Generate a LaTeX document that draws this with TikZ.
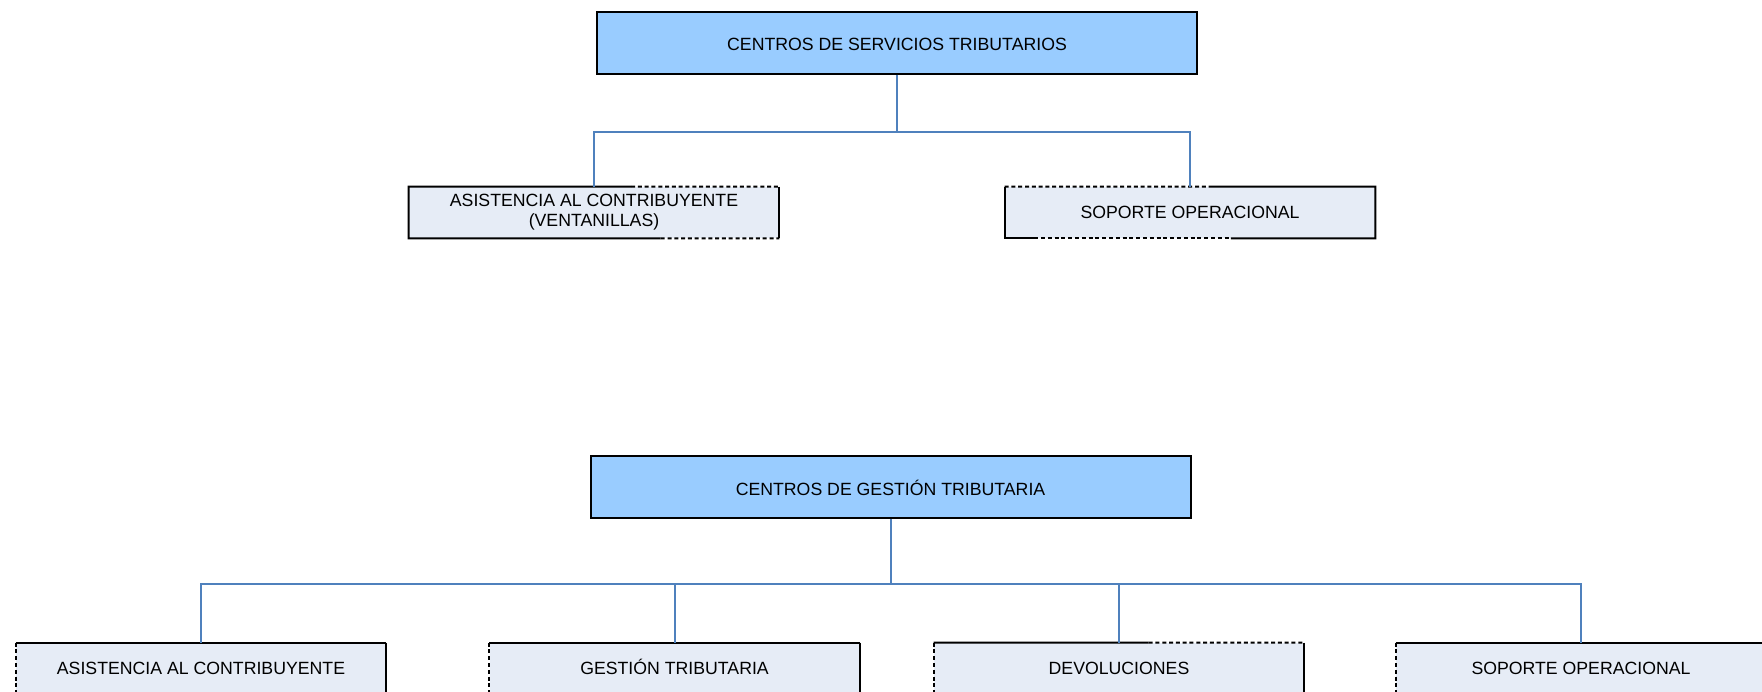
\documentclass[tikz,border=0pt]{standalone}
\usepackage{fontspec}
\setmainfont{Liberation Sans}
\usetikzlibrary{calc}

\definecolor{headblue}{RGB}{153,204,255}
\definecolor{unitgray}{RGB}{230,236,246}
\definecolor{linkblue}{RGB}{79,129,189}

\tikzset{
  head/.style={fill=headblue, draw=black, line width=1pt, minimum width=300pt, minimum height=31pt, inner sep=0pt, text height=8.3pt, text depth=0pt, font=\fontsize{8.85}{10}\selectfont},
  unit/.style={fill=unitgray, minimum width=185pt, minimum height=25.5pt, inner sep=0pt, align=center, font=\fontsize{8.85}{10}\selectfont},
  unitone/.style={unit, text height=6.4pt, text depth=0pt},
  rim/.style={black, line width=1pt},
  rimdash/.style={black, line width=1pt, dash pattern=on 2pt off 1.4pt},
  conn/.style={linkblue, line width=1pt}
}

\begin{document}
\begin{tikzpicture}[x=0.5pt,y=-0.5pt]
\useasboundingbox (0,0) rectangle (1762,691);
\clip (0,0) rectangle (1762,691);

%Centros de servicios
\node[head] (css) at (897,42.5) {CENTROS DE SERVICIOS TRIBUTARIOS};
\node[unit] (asis) at (594,212.5) {ASISTENCIA AL CONTRIBUYENTE\\(VENTANILLAS)};
\node[unitone] (sopa) at (1190,212.5) {SOPORTE OPERACIONAL};
\coordinate (bus1) at (897,131.5);

% borders asis
\draw[rim] ($(asis.north west)!0.6!(asis.north east)$) -| (asis.south west) -- ($(asis.south west)!0.68!(asis.south east)$);
\draw[rim] (asis.north east) -- (asis.south east);
\draw[rimdash] ($(asis.north west)!0.6!(asis.north east)$) -- (asis.north east);
\draw[rimdash] ($(asis.south west)!0.68!(asis.south east)$) -- (asis.south east);
% borders sopa
\draw[rim] ($(sopa.north west)!0.55!(sopa.north east)$) -| (sopa.south east) -- ($(sopa.south west)!0.61!(sopa.south east)$);
\draw[rim] ($(sopa.south west)!0.08!(sopa.south east)$) -| (sopa.north west);
\draw[rimdash] (sopa.north west) -- ($(sopa.north west)!0.55!(sopa.north east)$);
\draw[rimdash] ($(sopa.south west)!0.08!(sopa.south east)$) -- ($(sopa.south west)!0.61!(sopa.south east)$);

\draw[conn] (css.south) -- (bus1);
\draw[conn] (asis.north) |- (bus1) -| (sopa.north);

%Centros de gestion
\node[head] (cgt) at (890.5,487) {CENTROS DE GESTIÓN TRIBUTARIA};
\node[unitone] (gasis) at (201,668.5) {ASISTENCIA AL CONTRIBUYENTE};
\node[unitone] (gtrib) at (674.5,668.5) {GESTIÓN TRIBUTARIA};
\node[unitone] (gdev) at (1119,668.5) {DEVOLUCIONES};
\node[unitone] (gsop) at (1581,668.5) {SOPORTE OPERACIONAL};
\coordinate (bus2) at (890.5,584);

% borders row 2
\foreach \u in {gasis,gtrib,gdev,gsop}{
  \draw[rimdash] (\u.north west) -- (\u.south west);
  \draw[rim] (\u.north east) -- (\u.south east);
}
\draw[rim] (gasis.north west) -- (gasis.north east);
\draw[rim] (gtrib.north west) -- (gtrib.north east);
\draw[rim] (gsop.north west) -- (gsop.north east);
\draw[rim] (gdev.north west) -- ($(gdev.north west)!0.58!(gdev.north east)$);
\draw[rimdash] ($(gdev.north west)!0.58!(gdev.north east)$) -- (gdev.north east);

\draw[conn] (cgt.south) -- (bus2);
\draw[conn] (gasis.north) |- (bus2) -| (gsop.north);
\draw[conn] (gtrib.north) -- (gtrib.north |- bus2);
\draw[conn] (gdev.north) -- (gdev.north |- bus2);
\end{tikzpicture}
\end{document}
